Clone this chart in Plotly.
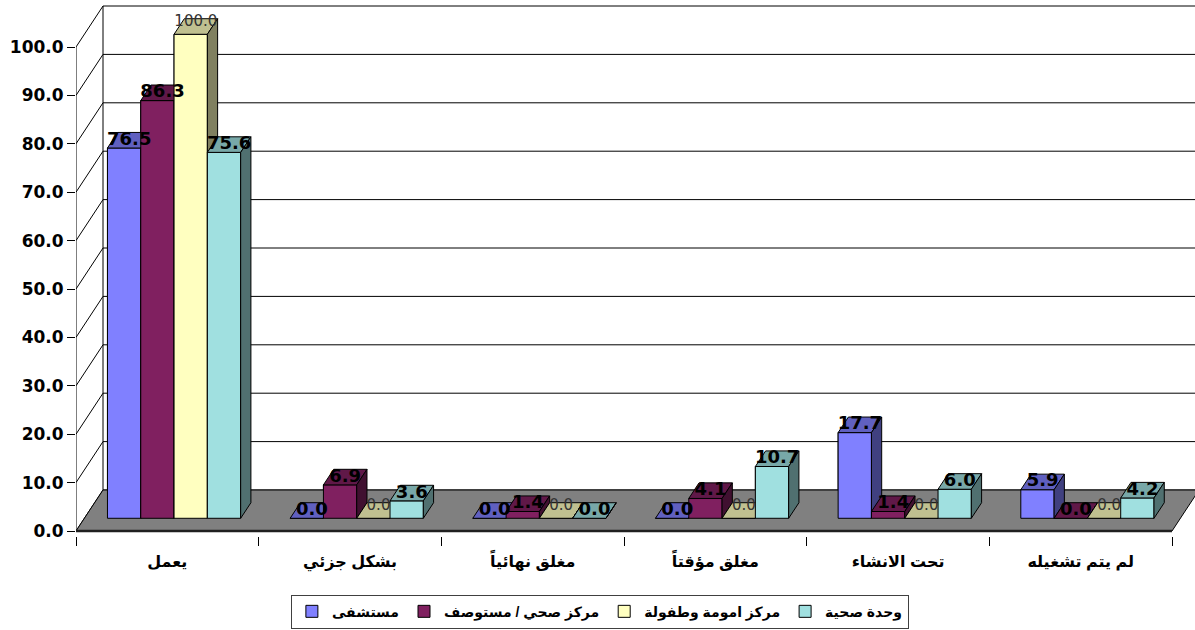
import plotly.graph_objects as go

# ---------------- data ----------------
categories = ["يعمل", "بشكل جزئي", "مغلق نهائياً", "مغلق مؤقتاً", "تحت الانشاء", "لم يتم تشغيله"]
series_names = ["مستشفى", "مركز صحي / مستوصف", "مركز امومة وطفولة", "وحدة صحية"]
hospital = [76.5, 0.0, 0.0, 0.0, 17.7, 5.9]
health_center = [86.3, 6.9, 1.4, 4.1, 1.4, 0.0]
maternity = [100.0, 0.0, 0.0, 0.0, 0.0, 0.0]
health_unit = [75.6, 3.6, 0.0, 10.7, 6.0, 4.2]
y_tick_values = [0, 10, 20, 30, 40, 50, 60, 70, 80, 90, 100]
y_tick_labels = ["0.0", "10.0", "20.0", "30.0", "40.0", "50.0", "60.0", "70.0", "80.0", "90.0", "100.0"]

series_values = [hospital, health_center, maternity, health_unit]

# ---------------- style ----------------
front_colors = ["#8080FF", "#802060", "#FFFFC0", "#A0E0E0"]
top_colors = ["#6060C0", "#601848", "#C0C090", "#78A8A8"]
side_colors = ["#404080", "#401030", "#808060", "#507070"]
label_bold = [True, True, False, True]

NUM_FONT = "DejaVu Sans"
AR_FONT = "Liberation Sans, DejaVu Sans, sans-serif"

W, H = 1195, 630
ML, MR, MT, MB = 76, 0, 2, 94
PX_CAT = 182.67
X_MAX = (W - ML - MR) / PX_CAT
PX_UNIT = 4.84
ZERO_PX = 531.0
Y_MAX = (ZERO_PX - MT) / PX_UNIT
Y_MIN = -((H - MB) - ZERO_PX) / PX_UNIT

NCAT = len(categories)
DX = 27 / PX_CAT          # full depth offset (x units)
DY = 41 / PX_UNIT         # full depth offset (value units)
F0, F1 = 0.31, 0.69       # bar depth position (fraction of full depth)
BW = 33.3 / PX_CAT        # bar width
GAP = (1 - 4 * BW) / 2 - 0.009
ddx = (F1 - F0) * DX
ddy = (F1 - F0) * DY
base = F0 * DY

fig = go.Figure()

# front-face bars (real bars through the axes; also give the legend)
for j, name in enumerate(series_names):
    xs = [i + GAP + j * BW + F0 * DX + BW / 2 for i in range(NCAT)]
    fig.add_trace(go.Bar(
        x=xs, y=series_values[j], base=base, width=BW, name=name,
        marker=dict(color=front_colors[j], line=dict(color="black", width=1)),
        hoverinfo="skip"))


def poly(xs, ys, fill, lw=1, lc="black"):
    fig.add_trace(go.Scatter(
        x=xs + [xs[0]], y=ys + [ys[0]], mode="lines", fill="toself",
        fillcolor=fill, line=dict(color=lc, width=lw), showlegend=False,
        hoverinfo="skip"))


def line(xs, ys, color="black", width=1):
    fig.add_trace(go.Scatter(
        x=xs, y=ys, mode="lines", line=dict(color=color, width=width),
        showlegend=False, hoverinfo="skip"))


# back wall gridlines
for v in y_tick_values:
    line([DX, X_MAX + 1], [v + DY, v + DY])
# left side wall
for v in y_tick_values:
    line([0, DX], [v, v + DY])
line([DX, DX], [DY, y_tick_values[-1] + DY])
line([0, 0], [0, y_tick_values[-1]])

# floor
poly([0, NCAT, NCAT + DX, DX], [0, 0, DY, DY], "#808080")
line([0, NCAT], [0, 0], color="#202020", width=2.5)

# bars in painter's order
for i in range(NCAT):
    for j in range(4):
        v = series_values[j][i]
        xl = i + GAP + j * BW + F0 * DX
        xr = xl + BW
        top = base + v
        poly([xl, xr, xr, xl], [base, base, top, top], front_colors[j])
        poly([xl, xr, xr + ddx, xl + ddx], [top, top, top + ddy, top + ddy], top_colors[j])
        poly([xr, xr, xr + ddx, xr + ddx], [base, top, top + ddy, base + ddy], side_colors[j])

# data labels
for j in range(4):
    xs = [i + GAP + j * BW + F0 * DX + BW / 2 + ddx / 2 for i in range(NCAT)]
    ys = [base + v + ddy / 2 + (0.0 if label_bold[j] else 0.8) for v in series_values[j]]
    fig.add_trace(go.Scatter(
        x=xs, y=ys, mode="text", text=[f"{v:.1f}" for v in series_values[j]],
        textposition="middle center", cliponaxis=False, showlegend=False,
        hoverinfo="skip",
        textfont=dict(family=NUM_FONT, size=18 if label_bold[j] else 15,
                      color="black" if label_bold[j] else "#333333",
                      weight="bold" if label_bold[j] else "normal")))

fig.update_layout(
    width=W, height=H,
    margin=dict(l=ML, r=MR, t=MT, b=MB, pad=0),
    paper_bgcolor="white", plot_bgcolor="white",
    barmode="overlay",
    showlegend=True,
    legend=dict(orientation="h", xref="container", yref="container",
                x=0.502, xanchor="center", y=0.002, yanchor="bottom",
                bgcolor="white", bordercolor="#404040", borderwidth=1,
                font=dict(family=AR_FONT, size=14, color="black", weight="bold"),
                traceorder="normal"),
    xaxis=dict(range=[0, X_MAX], showgrid=False, zeroline=False, showline=False,
               tickmode="array", tickvals=[i + 0.5 for i in range(NCAT)],
               ticktext=categories, ticks="", ticklabelstandoff=14,
               tickfont=dict(family=AR_FONT, size=16, color="black", weight="bold"),
               minor=dict(tickmode="array", tickvals=list(range(NCAT + 1)),
                          ticks="outside", ticklen=9, tickcolor="black", tickwidth=1)),
    yaxis=dict(range=[Y_MIN, Y_MAX], showgrid=False, zeroline=False, showline=False,
               tickmode="array", tickvals=y_tick_values, ticktext=y_tick_labels,
               ticks="outside", ticklen=8, tickcolor="black",
               tickfont=dict(family=NUM_FONT, size=17, color="black", weight="bold")),
)

fig.write_html("out.html", config={"displayModeBar": False},
               post_script="document.body.style.margin='0';document.body.style.overflow='hidden';")
